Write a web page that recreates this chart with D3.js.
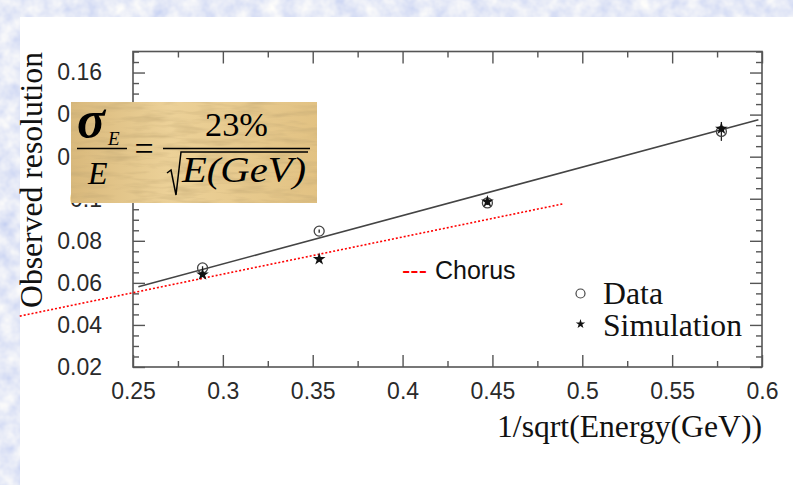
<!DOCTYPE html>
<html>
<head>
<meta charset="utf-8">
<script src="https://cdn.jsdelivr.net/npm/d3@7"></script>
<style>
  html, body { margin: 0; padding: 0; background: #fff; }
  svg { display: block; }
</style>
</head>
<body>
<div id="chart"></div>
<script>
// Beam energies expressed as 1/sqrt(E[GeV]) (12, 8, 5, 3 GeV)
const invSqrtE = [0.2887, 0.3536, 0.4472, 0.5774];
// Measured and simulated relative energy resolution
const dataRes = [0.0671, 0.0846, 0.0980, 0.1320];
const dataErr = [0.0008, 0.0008, 0.0010, 0.0045];
const simRes  = [0.0640, 0.0713, 0.0986, 0.1333];
// Fit: sigma/E = 23% / sqrt(E)
const fitCoef = 0.23;
const fitX = [0.253, 0.598];
// CHORUS calorimeter reference resolution
const chorusX = [0.187, 0.49];
const chorusY = [0.0442, 0.0977];
// Axis ticks and labels
const xMajor = [0.25, 0.3, 0.35, 0.4, 0.45, 0.5, 0.55, 0.6];
const xLabels = ["0.25", "0.3", "0.35", "0.4", "0.45", "0.5", "0.55", "0.6"];
const yMajor = [0.02, 0.04, 0.06, 0.08, 0.1, 0.12, 0.14, 0.16];
const yLabels = ["0.02", "0.04", "0.06", "0.08", "0.1", "0.12", "0.14", "0.16"];
const legendNames = ["Data", "Simulation"];

const W = 793, H = 485;
const svg = d3.select("#chart").append("svg").attr("width", W).attr("height", H);
const defs = svg.append("defs");

// Mottled light-blue slide background
const bgF = defs.append("filter").attr("id", "bgTex").attr("x", 0).attr("y", 0).attr("width", "100%").attr("height", "100%");
bgF.append("feTurbulence").attr("type", "fractalNoise").attr("baseFrequency", "0.06").attr("numOctaves", 3).attr("seed", 7);
bgF.append("feColorMatrix").attr("type", "matrix")
  .attr("values", "0.55 0 0 0 0.52  0.45 0 0 0 0.60  0.10 0 0 0 0.88  0 0 0 0 1");
svg.append("rect").attr("width", W).attr("height", H).attr("fill", "#c9d6f3").attr("filter", "url(#bgTex)");
svg.append("rect").attr("x", 20).attr("y", 17).attr("width", W - 20).attr("height", H - 17).attr("fill", "#fff");

const x = d3.scaleLinear().domain([0.25, 0.6]).range([133, 762]);
const y = d3.scaleLinear().domain([0.02, 0.17]).range([367, 51.5]);

const sans = "'Liberation Sans', Arial, sans-serif";
const serif = "'Liberation Serif', 'Times New Roman', serif";
const axisColor = "#555";
function styleAxis(g) {
  g.select(".domain").remove();
  g.selectAll(".tick line").attr("stroke", axisColor).attr("stroke-width", 1.4);
  g.selectAll(".tick text").attr("fill", "#2a2a2a").style("font-family", sans).style("font-size", "23px");
}
const xMinor = d3.range(0.25, 0.6001, 0.025).filter(v => !xMajor.some(m => Math.abs(m - v) < 1e-6));
const yMinor = d3.range(0.02, 0.1701, 0.005).filter(v => !yMajor.some(m => Math.abs(m - v) < 1e-6));

// bottom
svg.append("g").attr("transform", `translate(0,${y.range()[0]})`)
  .call(d3.axisBottom(x).tickValues(xMajor).tickSize(-12).tickPadding(16).tickFormat((d, i) => xLabels[i]))
  .call(styleAxis);
svg.append("g").attr("transform", `translate(0,${y.range()[0]})`)
  .call(d3.axisBottom(x).tickValues(xMinor).tickSize(-6).tickFormat(""))
  .call(styleAxis);
// top
svg.append("g").attr("transform", `translate(0,${y.range()[1]})`)
  .call(d3.axisTop(x).tickValues(xMajor).tickSize(-12).tickFormat(""))
  .call(styleAxis);
svg.append("g").attr("transform", `translate(0,${y.range()[1]})`)
  .call(d3.axisTop(x).tickValues(xMinor).tickSize(-6).tickFormat(""))
  .call(styleAxis);
// left
svg.append("g").attr("transform", `translate(${x.range()[0]},0)`)
  .call(d3.axisLeft(y).tickValues(yMajor).tickSize(-12).tickPadding(31).tickFormat((d, i) => yLabels[i]))
  .call(styleAxis);
svg.append("g").attr("transform", `translate(${x.range()[0]},0)`)
  .call(d3.axisLeft(y).tickValues(yMinor).tickSize(-6).tickFormat(""))
  .call(styleAxis);
// right
svg.append("g").attr("transform", `translate(${x.range()[1]},0)`)
  .call(d3.axisRight(y).tickValues(yMajor).tickSize(-12).tickFormat(""))
  .call(styleAxis);
svg.append("g").attr("transform", `translate(${x.range()[1]},0)`)
  .call(d3.axisRight(y).tickValues(yMinor).tickSize(-6).tickFormat(""))
  .call(styleAxis);

// frame
svg.append("rect")
  .attr("x", x.range()[0]).attr("y", y.range()[1])
  .attr("width", x.range()[1] - x.range()[0]).attr("height", y.range()[0] - y.range()[1])
  .attr("fill", "none").attr("stroke", axisColor).attr("stroke-width", 1.6);

// axis titles
svg.append("text").attr("x", 762).attr("y", 437).attr("text-anchor", "end")
  .attr("textLength", 265).attr("lengthAdjust", "spacingAndGlyphs")
  .style("font-family", serif).style("font-size", "31.5px").attr("fill", "#111")
  .text("1/sqrt(Energy(GeV))");
svg.append("text").attr("transform", "translate(42,180) rotate(-90)").attr("text-anchor", "middle")
  .attr("textLength", 256).attr("lengthAdjust", "spacingAndGlyphs")
  .style("font-family", serif).style("font-size", "31.5px").attr("fill", "#111")
  .text("Observed resolution");

// fit line
const line = d3.line().x(d => x(d[0])).y(d => y(d[1]));
svg.append("path").datum(fitX.map(v => [v, fitCoef * v]))
  .attr("d", line).attr("fill", "none").attr("stroke", "#444").attr("stroke-width", 1.6);

// CHORUS reference line
svg.append("path").datum(chorusX.map((v, i) => [v, chorusY[i]]))
  .attr("d", line).attr("fill", "none").attr("stroke", "#f00").attr("stroke-width", 1.6)
  .attr("stroke-dasharray", "2,2");

// data error bars
svg.append("g").selectAll("line").data(invSqrtE).join("line")
  .attr("x1", d => x(d)).attr("x2", d => x(d))
  .attr("y1", (d, i) => y(dataRes[i] - dataErr[i])).attr("y2", (d, i) => y(dataRes[i] + dataErr[i]))
  .attr("stroke", "#222").attr("stroke-width", 1.3);

// data points (open circles)
svg.append("g").selectAll("circle").data(invSqrtE).join("circle")
  .attr("cx", d => x(d)).attr("cy", (d, i) => y(dataRes[i])).attr("r", 5)
  .attr("fill", "none").attr("stroke", "#444").attr("stroke-width", 1.3);

// simulation points (stars)
const star = d3.symbol().type(d3.symbolStar).size(50);
svg.append("g").selectAll("path").data(invSqrtE).join("path")
  .attr("transform", (d, i) => `translate(${x(d)},${y(simRes[i])})`)
  .attr("d", star).attr("fill", "#111");

// legend
svg.append("circle").attr("cx", 580.5).attr("cy", 293.5).attr("r", 4.5)
  .attr("fill", "none").attr("stroke", "#444").attr("stroke-width", 1.2);
svg.append("path").attr("transform", "translate(580.5,324)").attr("d", d3.symbol().type(d3.symbolStar).size(28)).attr("fill", "#111");
svg.append("text").attr("x", 603).attr("y", 303.5).style("font-family", serif).style("font-size", "31.5px").attr("fill", "#111")
  .attr("textLength", 60).attr("lengthAdjust", "spacingAndGlyphs").text(legendNames[0]);
svg.append("text").attr("x", 603).attr("y", 335.5).style("font-family", serif).style("font-size", "31.5px").attr("fill", "#111")
  .attr("textLength", 139).attr("lengthAdjust", "spacingAndGlyphs").text(legendNames[1]);

// CHORUS label
const cl = svg.append("text").attr("x", 402).attr("y", 279)
  .style("font-family", sans).style("font-size", "25px").attr("fill", "#111");
cl.append("tspan").attr("fill", "#f00").text("---");
cl.append("tspan").attr("dx", 8).text("Chorus");

// resolution formula on a papyrus-textured card
const grad = defs.append("linearGradient").attr("id", "papyrusGrad");
grad.append("stop").attr("offset", "0%").attr("stop-color", "#d9b97c");
grad.append("stop").attr("offset", "40%").attr("stop-color", "#ecd198");
grad.append("stop").attr("offset", "100%").attr("stop-color", "#e2c283");
const pf = defs.append("filter").attr("id", "papyrusTex").attr("x", 0).attr("y", 0).attr("width", "100%").attr("height", "100%");
pf.append("feTurbulence").attr("type", "fractalNoise").attr("baseFrequency", "0.03 0.18").attr("numOctaves", 3).attr("seed", 3).attr("result", "n");
pf.append("feColorMatrix").attr("in", "n").attr("type", "matrix")
  .attr("values", "0 0 0 0 0.55  0 0 0 0 0.40  0 0 0 0 0.18  0 0 0 1.2 -0.5").attr("result", "c");
pf.append("feComposite").attr("in", "c").attr("in2", "SourceGraphic").attr("operator", "in");

const card = svg.append("g");
card.append("rect").attr("x", 71).attr("y", 102).attr("width", 246).attr("height", 101).attr("fill", "url(#papyrusGrad)");
card.append("rect").attr("x", 71).attr("y", 102).attr("width", 246).attr("height", 101).attr("fill", "#000").attr("filter", "url(#papyrusTex)");

function ftext(xp, yp, size, italic, str) {
  return card.append("text").attr("x", xp).attr("y", yp).attr("fill", "#000")
    .style("font-family", serif).style("font-size", size + "px")
    .style("font-style", italic ? "italic" : "normal").text(str);
}
ftext(77, 137, 52, true, "σ").style("font-weight", "bold");
ftext(108, 145, 19, true, "E");
card.append("line").attr("x1", 77).attr("x2", 127).attr("y1", 148.5).attr("y2", 148.5).attr("stroke", "#000").attr("stroke-width", 1.5);
ftext(88, 183.5, 32, true, "E");
ftext(144, 160, 34, false, "=").attr("text-anchor", "middle");
ftext(205, 135.5, 33, false, "23%").attr("textLength", 63).attr("lengthAdjust", "spacingAndGlyphs");
card.append("line").attr("x1", 163).attr("x2", 310).attr("y1", 148.5).attr("y2", 148.5).attr("stroke", "#000").attr("stroke-width", 1.5);
card.append("path").attr("d", "M167,173 L171,170 L176,195 L181,152 L308,152")
  .attr("fill", "none").attr("stroke", "#000").attr("stroke-width", 1.5).attr("stroke-linejoin", "miter");
ftext(182, 182, 35, true, "E(GeV)").attr("textLength", 124).attr("lengthAdjust", "spacingAndGlyphs");
</script>
</body>
</html>
